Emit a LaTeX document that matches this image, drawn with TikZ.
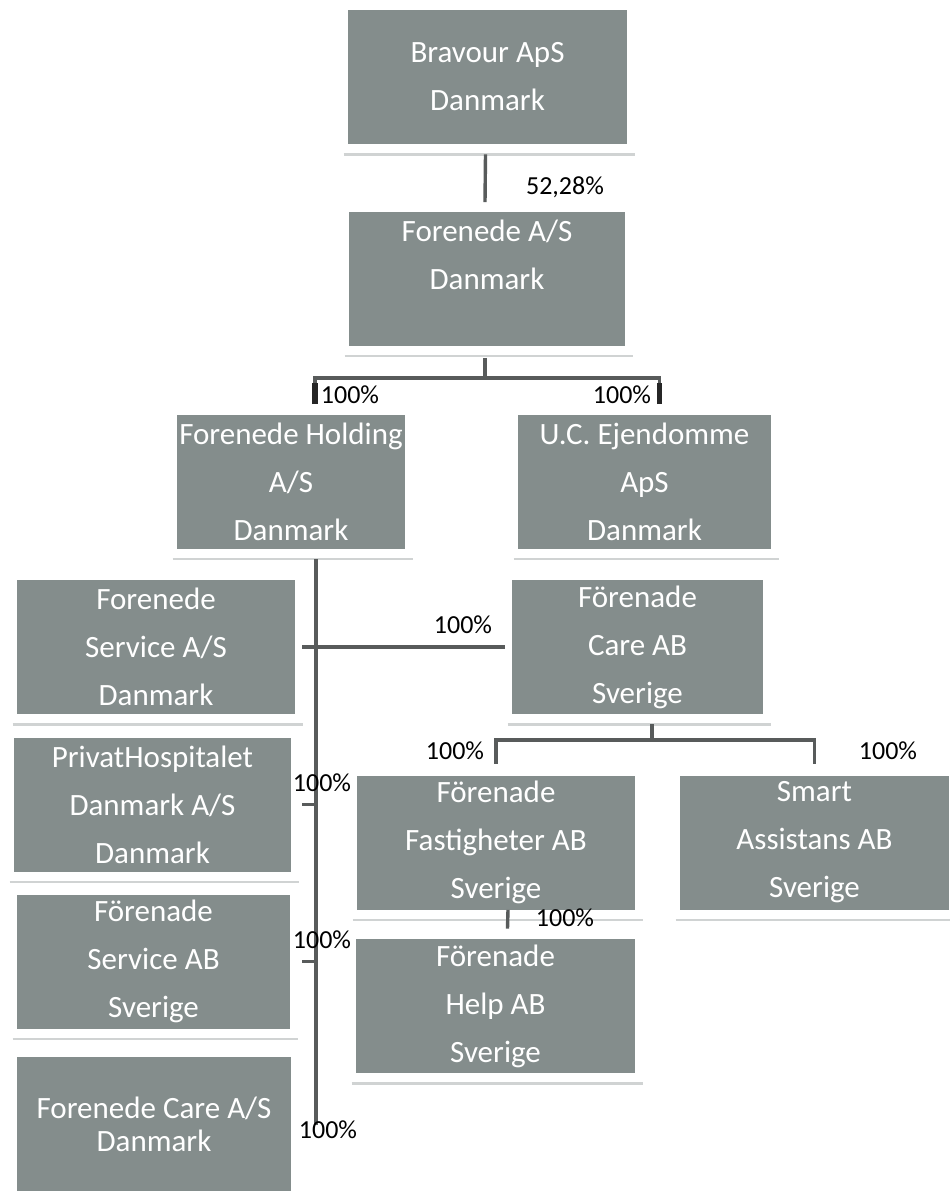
\documentclass[tikz,border=0pt]{standalone}
\usepackage{fontspec}
\setmainfont{Carlito}
\usepackage{tikz}
\definecolor{color1}{RGB}{132,141,140}
\definecolor{color2}{RGB}{88,91,91}
\definecolor{color3}{RGB}{208,211,211}
\def\linethickness{1.7pt}
\tikzset{
    firm/.style={rectangle, fill=color1, draw=none, text=white, align=center, inner sep=0pt,
        minimum width=138pt, minimum height=67pt, font=\fontsize{15.5pt}{24pt}\selectfont},
    pct/.style={inner sep=0pt, font=\fontsize{13pt}{14pt}\selectfont},
    link/.style={color2, line width=\linethickness},
    bartick/.style={black!85, line width=2.6pt},
    shadowline/.style={color3, line width=1.4pt},
}

\begin{document}
\begin{tikzpicture}[x=0.5pt, y=-0.5pt]
    \useasboundingbox (0, 0) rectangle (949, 1195);
    \node[firm, minimum width=139.5pt] (bra) at (487.5, 77) {Bravour ApS\\Danmark};
    \node[firm] (fas) at (487, 278.5) {Forenede A/S\\Danmark\\\mbox{}};
    \node[firm, minimum width=114pt] (hol) at (291, 481.5) {Forenede Holding\\A/S\\Danmark};
    \node[firm, minimum width=126.5pt] (uce) at (644.5, 481.5) {U.C. Ejendomme\\ApS\\Danmark};
    \node[firm, minimum width=139pt] (fse) at (156, 647) {Forenede\\Service A/S\\Danmark};
    \node[firm, minimum width=125.5pt] (fca) at (637.5, 647) {Förenade\\Care AB\\Sverige};
    \node[firm, minimum width=138.5pt] (pho) at (152.5, 804.5) {PrivatHospitalet\\Danmark A/S\\Danmark};
    \node[firm, minimum width=139pt] (ffa) at (496, 842.5) {Förenade\\Fastigheter AB\\Sverige};
    \node[firm, minimum width=134.5pt] (sma) at (814.5, 842.5) {Smart\\Assistans AB\\Sverige};
    \node[firm, minimum width=136.5pt] (fsa) at (153.5, 961.5) {Förenade\\Service AB\\Sverige};
    \node[firm, minimum width=139.5pt] (fhe) at (495.5, 1006) {Förenade\\Help AB\\Sverige};
    \node[firm, minimum width=137pt] (fcd) at (154, 1124) {Forenede Care A/S\\[-7.5pt]Danmark};
    \foreach \n in {bra, fas, hol, uce, fse, fca, pho, ffa, sma, fsa, fhe, fcd}
        \draw[shadowline] ([shift={(-2pt, -5pt)}]\n.south west) -- ([shift={(4pt, -5pt)}]\n.south east);
    \coordinate (j1) at (485, 378);
    \coordinate (j2) at (652, 740);
    \coordinate (t1) at (316, 1125);
    \draw[link] ([xshift=-1pt, yshift=-5pt]bra.south) -- ([xshift=-1pt, yshift=4.5pt]fas.north);
    \draw[link] ([xshift=-1pt, yshift=-6pt]fas.south) -- (j1);
    \draw[link] (j1) -| ([xshift=12pt, yshift=5pt]hol.north);
    \draw[link] (j1) -| ([xshift=7.5pt, yshift=5pt]uce.north);
    \draw[bartick] ([xshift=12pt, yshift=5pt]hol.north) -- ([xshift=12pt, yshift=15.5pt]hol.north);
    \draw[bartick] ([xshift=7.5pt, yshift=5pt]uce.north) -- ([xshift=7.5pt, yshift=15.5pt]uce.north);
    \draw[link] ([xshift=12.5pt, yshift=-5pt]hol.south) -- (t1);
    \draw[link] ([xshift=3.5pt]fse.east) -- ([xshift=-3.5pt]fca.west);
    \draw[link] ([xshift=5.5pt]pho.east) -- (pho.east -| t1);
    \draw[link] ([xshift=6pt]fsa.east) -- (fsa.east -| t1);
    \draw[link] ([xshift=7.25pt, yshift=-5pt]fca.south) -- (j2);
    \draw[link] (j2) -| ([yshift=5.5pt]ffa.north);
    \draw[link] (j2) -| ([yshift=5.5pt]sma.north);
    \draw[link] ([xshift=6pt]ffa.south) -- ([xshift=6pt, yshift=5pt]fhe.north);
    \node[pct] (p0) at (565, 187) {52,28\%};
    \node[pct] (p1) at (350, 395) {100\%};
    \node[pct] (p2) at (622, 395) {100\%};
    \node[pct] (p3) at (463, 625) {100\%};
    \node[pct] (p4) at (455, 751) {100\%};
    \node[pct] (p5) at (888, 751) {100\%};
    \node[pct] (p6) at (322, 783) {100\%};
    \node[pct] (p7) at (565, 918) {100\%};
    \node[pct] (p8) at (322, 940) {100\%};
    \node[pct] (p9) at (328, 1130) {100\%};
\end{tikzpicture}
\end{document}
